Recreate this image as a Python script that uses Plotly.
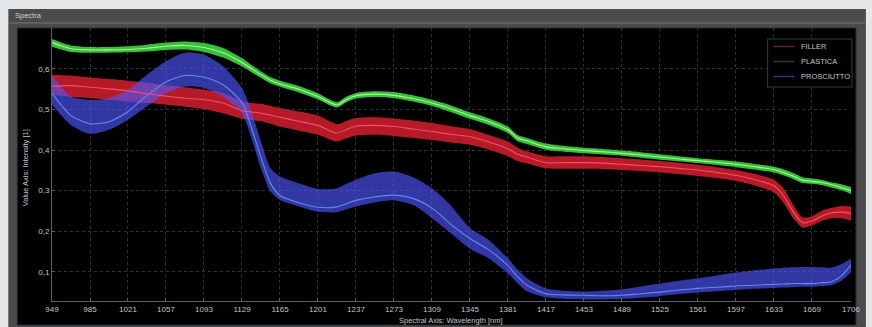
import plotly.graph_objects as go

# Wavelength sampling [nm]
wavelength = [949, 967, 985, 1003, 1021, 1039, 1057, 1075, 1093, 1111, 1129, 1138, 1147, 1156,
              1165, 1183, 1201, 1219, 1228, 1237, 1255, 1273, 1291, 1309, 1327, 1345, 1363,
              1381, 1390, 1399, 1417, 1435, 1453, 1471, 1489, 1507, 1525, 1543, 1561, 1579,
              1597, 1615, 1633, 1642, 1651, 1660, 1669, 1678, 1687, 1697, 1706]

# FILLER: min / max envelope and mean spectrum
filler_low = [0.537, 0.531, 0.528, 0.524, 0.520, 0.516, 0.512, 0.507, 0.501, 0.491, 0.477, 0.474,
              0.471, 0.465, 0.458, 0.448, 0.438, 0.421, 0.429, 0.436, 0.438, 0.435, 0.430, 0.425,
              0.419, 0.413, 0.401, 0.385, 0.373, 0.367, 0.355, 0.354, 0.354, 0.353, 0.351, 0.348,
              0.345, 0.341, 0.336, 0.331, 0.324, 0.313, 0.296, 0.270, 0.233, 0.209, 0.214, 0.225,
              0.232, 0.232, 0.226]
filler_high = [0.586, 0.584, 0.579, 0.575, 0.571, 0.566, 0.560, 0.555, 0.549, 0.541, 0.520, 0.516,
               0.514, 0.509, 0.504, 0.495, 0.485, 0.464, 0.472, 0.479, 0.481, 0.478, 0.473, 0.467,
               0.459, 0.452, 0.437, 0.421, 0.406, 0.397, 0.385, 0.385, 0.385, 0.383, 0.380, 0.377,
               0.373, 0.369, 0.364, 0.358, 0.351, 0.341, 0.327, 0.306, 0.266, 0.234, 0.237, 0.250,
               0.257, 0.262, 0.261]
filler_mean = [0.557, 0.559, 0.555, 0.551, 0.546, 0.539, 0.533, 0.528, 0.524, 0.516, 0.497, 0.494,
               0.491, 0.486, 0.481, 0.471, 0.461, 0.442, 0.451, 0.459, 0.461, 0.458, 0.452, 0.446,
               0.439, 0.433, 0.420, 0.403, 0.390, 0.383, 0.369, 0.369, 0.369, 0.368, 0.365, 0.362,
               0.359, 0.355, 0.351, 0.345, 0.338, 0.327, 0.312, 0.288, 0.249, 0.221, 0.225, 0.237,
               0.245, 0.247, 0.244]

# PLASTICA
plastica_low = [0.655, 0.642, 0.640, 0.640, 0.641, 0.643, 0.647, 0.648, 0.642, 0.628, 0.606, 0.592,
                0.578, 0.565, 0.556, 0.542, 0.525, 0.505, 0.518, 0.527, 0.531, 0.528, 0.520, 0.509,
                0.494, 0.477, 0.462, 0.442, 0.422, 0.415, 0.401, 0.396, 0.392, 0.389, 0.386, 0.381,
                0.376, 0.372, 0.368, 0.363, 0.358, 0.352, 0.345, 0.338, 0.329, 0.319, 0.317, 0.314,
                0.308, 0.301, 0.292]
plastica_high = [0.674, 0.658, 0.654, 0.654, 0.656, 0.660, 0.665, 0.668, 0.664, 0.652, 0.627, 0.610,
                 0.594, 0.580, 0.571, 0.558, 0.540, 0.518, 0.532, 0.541, 0.545, 0.543, 0.535, 0.524,
                 0.510, 0.493, 0.478, 0.458, 0.437, 0.430, 0.416, 0.410, 0.406, 0.403, 0.399, 0.395,
                 0.390, 0.385, 0.380, 0.376, 0.372, 0.366, 0.359, 0.353, 0.344, 0.333, 0.330, 0.327,
                 0.321, 0.316, 0.309]
plastica_mean = [0.665, 0.650, 0.647, 0.647, 0.648, 0.651, 0.656, 0.658, 0.653, 0.640, 0.616, 0.601,
                 0.586, 0.572, 0.563, 0.550, 0.532, 0.511, 0.525, 0.534, 0.538, 0.535, 0.527, 0.516,
                 0.502, 0.485, 0.470, 0.450, 0.430, 0.423, 0.408, 0.403, 0.399, 0.396, 0.392, 0.388,
                 0.383, 0.378, 0.374, 0.370, 0.365, 0.359, 0.352, 0.345, 0.336, 0.326, 0.323, 0.320,
                 0.315, 0.308, 0.300]

# PROSCIUTTO
prosciutto_low = [0.512, 0.462, 0.440, 0.450, 0.475, 0.508, 0.541, 0.557, 0.553, 0.532, 0.491, 0.429,
                  0.355, 0.298, 0.277, 0.261, 0.248, 0.247, 0.254, 0.261, 0.271, 0.276, 0.265, 0.232,
                  0.195, 0.157, 0.133, 0.096, 0.072, 0.052, 0.037, 0.033, 0.032, 0.032, 0.033, 0.036,
                  0.040, 0.045, 0.049, 0.052, 0.055, 0.058, 0.060, 0.061, 0.062, 0.063, 0.063, 0.065,
                  0.067, 0.078, 0.098]
prosciutto_high = [0.583, 0.532, 0.524, 0.528, 0.549, 0.586, 0.619, 0.640, 0.635, 0.607, 0.553, 0.495,
                   0.421, 0.355, 0.335, 0.318, 0.304, 0.306, 0.317, 0.327, 0.343, 0.347, 0.333, 0.306,
                   0.263, 0.208, 0.178, 0.133, 0.106, 0.084, 0.059, 0.053, 0.051, 0.053, 0.057, 0.064,
                   0.071, 0.078, 0.084, 0.091, 0.098, 0.104, 0.108, 0.110, 0.111, 0.112, 0.112, 0.111,
                   0.110, 0.119, 0.133]
prosciutto_mean = [0.540, 0.485, 0.465, 0.470, 0.495, 0.535, 0.568, 0.584, 0.580, 0.561, 0.517, 0.455,
                   0.382, 0.318, 0.288, 0.270, 0.259, 0.260, 0.268, 0.276, 0.285, 0.289, 0.281, 0.257,
                   0.217, 0.182, 0.154, 0.115, 0.088, 0.067, 0.046, 0.043, 0.042, 0.041, 0.042, 0.046,
                   0.050, 0.055, 0.059, 0.062, 0.065, 0.067, 0.069, 0.070, 0.071, 0.071, 0.071, 0.073,
                   0.075, 0.090, 0.117]

x_ticks = [949, 985, 1021, 1057, 1093, 1129, 1165, 1201, 1237, 1273, 1309, 1345, 1381,
           1417, 1453, 1489, 1525, 1561, 1597, 1633, 1669, 1706]
y_ticks = [0.1, 0.2, 0.3, 0.4, 0.5, 0.6]
y_tick_text = ["0,1", "0,2", "0,3", "0,4", "0,5", "0,6"]

series_names = ["FILLER", "PLASTICA", "PROSCIUTTO"]

# canvas geometry (pixels)
W, H = 872, 327
ML, MR, MT, MB = 52, 15, 28, 26
PW, PH = W - ML - MR, H - MT - MB


def px(x):
    return (x - ML) / PW


def py(y):
    return (H - MB - y) / PH


FONT = "Liberation Sans"
TXT = "#c3c5c9"

fig = go.Figure()


def add_band(low, high, fill):
    fig.add_trace(go.Scatter(x=wavelength, y=low, mode="lines",
                             line=dict(width=0, shape="spline", smoothing=0.7),
                             hoverinfo="skip", showlegend=False))
    fig.add_trace(go.Scatter(x=wavelength, y=high, mode="lines", fill="tonexty",
                             fillcolor=fill,
                             line=dict(width=0, shape="spline", smoothing=0.7),
                             hoverinfo="skip", showlegend=False))


def add_mean(mean, color, name):
    fig.add_trace(go.Scatter(x=wavelength, y=mean, mode="lines", name=name,
                             line=dict(width=1.1, color=color, shape="spline", smoothing=0.7),
                             showlegend=False))


add_band(plastica_low, plastica_high, "#33c23b")
add_band(filler_low, filler_high, "#b41b26")
add_band(prosciutto_low, prosciutto_high, "rgba(80,86,255,0.64)")

add_mean(plastica_mean, "#b6f08c", series_names[1])
add_mean(filler_mean, "#ff4a6e", series_names[0])
add_mean(prosciutto_mean, "#5f8cf2", series_names[2])

shapes = [
    # window body
    dict(type="rect", xref="paper", yref="paper", layer="below",
         x0=px(8), x1=px(872), y0=py(327), y1=py(9),
         fillcolor="#494b4d", line=dict(width=0)),
    # title bar separator
    dict(type="rect", xref="paper", yref="paper", layer="below",
         x0=px(9), x1=px(872), y0=py(24), y1=py(22),
         fillcolor="#5d5f61", line=dict(width=0)),
    # black chart panel
    dict(type="rect", xref="paper", yref="paper", layer="below",
         x0=px(17), x1=px(862), y0=py(325), y1=py(28),
         fillcolor="#000000", line=dict(width=1, color="#2b2d30")),
    # legend frame
    dict(type="rect", xref="paper", yref="paper", layer="above",
         x0=px(773), x1=px(858), y0=py(87), y1=py(39),
         fillcolor="#000000", line=dict(width=1, color="#353c45")),
]

legend_colors = ["#5e1e38", "#25422f", "#2c3a7c"]
legend_rows = [46.5, 61.5, 76.5]
annotations = []
for name, col, yy in zip(series_names, legend_colors, legend_rows):
    shapes.append(dict(type="line", xref="paper", yref="paper", layer="above",
                       x0=px(779), x1=px(800), y0=py(yy), y1=py(yy),
                       line=dict(width=1.5, color=col)))
    annotations.append(dict(text=name, xref="paper", yref="paper", showarrow=False,
                            x=px(805), y=py(yy), xanchor="left", yanchor="middle",
                            font=dict(family=FONT, size=7.5, color=TXT)))

annotations += [
    dict(text="Spectra", xref="paper", yref="paper", showarrow=False,
         x=px(13), y=py(16), xanchor="left", yanchor="middle",
         font=dict(family=FONT, size=7.5, color="#d0d2d5")),
    dict(text="Spectral Axis: Wavelength [nm]", xref="paper", yref="paper", showarrow=False,
         x=px(454), y=py(320), xanchor="center", yanchor="middle",
         font=dict(family=FONT, size=7.5, color=TXT)),
    dict(text="Value Axis: Intensity [1]", xref="paper", yref="paper", showarrow=False,
         x=px(25), y=py(168), xanchor="center", yanchor="middle", textangle=-90,
         font=dict(family=FONT, size=7.5, color=TXT)),
]

axis_common = dict(
    showgrid=True, gridcolor="#2a3542", griddash="dot", gridwidth=1,
    zeroline=False, showline=True, linecolor="#56626e", linewidth=1,
    ticks="inside", ticklen=3, tickcolor="#56626e",
    tickfont=dict(family=FONT, size=8, color=TXT),
)

fig.update_layout(
    width=W, height=H,
    margin=dict(l=ML, r=MR, t=MT, b=MB, pad=0),
    paper_bgcolor="#e5e6e8",
    plot_bgcolor="#000000",
    showlegend=False,
    shapes=shapes,
    annotations=annotations,
    xaxis=dict(range=[949, 1706], tickmode="array", tickvals=x_ticks,
               ticktext=[str(v) for v in x_ticks], **axis_common),
    yaxis=dict(range=[0.028, 0.701], tickmode="array", tickvals=y_ticks,
               ticktext=y_tick_text, **axis_common),
)

fig.write_html("out.html")
